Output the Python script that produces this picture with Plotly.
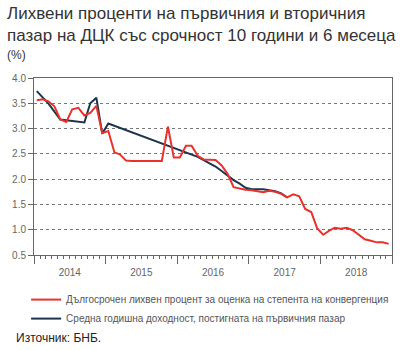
import plotly.graph_objects as go
import pandas as pd

# Monthly dates Jan 2014 - Dec 2018 (plotted at mid-month)
months = pd.date_range("2014-01-01", "2018-12-01", freq="MS") + pd.Timedelta(days=14)

# Long-term interest rate for the convergence assessment (%)
red_values = [
    3.56, 3.58, 3.54, 3.44, 3.18, 3.13, 3.38, 3.41, 3.26, 3.31, 3.45, 2.91,
    2.95, 2.53, 2.49, 2.37, 2.36, 2.36, 2.36, 2.36, 2.36, 2.36, 3.04, 2.43,
    2.43, 2.66, 2.66, 2.46, 2.39, 2.39, 2.38, 2.27, 2.10, 1.84, 1.81, 1.79,
    1.78, 1.76, 1.74, 1.77, 1.75, 1.71, 1.64, 1.70, 1.66, 1.41, 1.35, 1.03,
    0.90, 0.98, 1.04, 1.02, 1.04, 0.99, 0.91, 0.81, 0.78, 0.75, 0.75, 0.72,
]

# Average annual yield achieved on the primary market (%), None = no issue
blue_values = [
    3.74, None, 3.50, None, 3.18, None, None, None, 3.12, 3.50, 3.61, 2.90,
    3.10, None, None, None, None, None, None, None, None, None, None, None,
    None, None, None, 2.44, 2.38, 2.32, 2.25, 2.16, 2.07, 1.98, 1.91, 1.83,
    1.80, 1.80, 1.80, 1.78, 1.76, 1.72, 1.64, None, None, None, None, None,
    None, None, None, None, None, None, None, None, None, None, None, None,
]

red_name = "Дългосрочен лихвен процент за оценка на степента на конвергенция"
blue_name = "Средна годишна доходност, постигната на първичния пазар"
title_text = "Лихвени проценти на първичния и вторичния<br>пазар на ДЦК със срочност 10 години и 6 месеца"
unit_text = "(%)"
source_text = "Източник: БНБ."
y_ticks = [0.5, 1.0, 1.5, 2.0, 2.5, 3.0, 3.5, 4.0]

RED = "#e8322b"
BLUE = "#1d3450"
FONT = "Liberation Sans, Arial, sans-serif"

fig = go.Figure()
fig.add_trace(go.Scatter(x=months, y=blue_values, mode="lines", name=blue_name,
                         connectgaps=True, line=dict(color=BLUE, width=2)))
fig.add_trace(go.Scatter(x=months, y=red_values, mode="lines", name=red_name,
                         line=dict(color=RED, width=2)))

fig.update_layout(
    width=407, height=350,
    margin=dict(l=29, r=15, t=78, b=95),
    paper_bgcolor="white", plot_bgcolor="white",
    font=dict(family=FONT, color="#555555", size=10),
    showlegend=True,
    legend=dict(x=-0.022, y=-0.17, xanchor="left", yanchor="top",
                traceorder="reversed",
                font=dict(size=10, color="#555555"), tracegroupgap=0,
                bgcolor="rgba(0,0,0,0)"),
    annotations=[
        dict(text=title_text, xref="paper", yref="paper", x=-29/363, y=1 + 76/177,
             xanchor="left", yanchor="top", showarrow=False, align="left",
             font=dict(size=17, color="#333333", family=FONT)),
        dict(text=unit_text, xref="paper", yref="paper", x=-29/363, y=1 + 32/177,
             xanchor="left", yanchor="top", showarrow=False,
             font=dict(size=12, color="#333333", family=FONT)),
        dict(text=source_text, xref="paper", yref="paper", x=-20/363, y=-74/177,
             xanchor="left", yanchor="top", showarrow=False,
             font=dict(size=12, color="#222222", family=FONT)),
    ],
)

fig.update_xaxes(
    type="date", range=["2014-01-01", "2019-01-01"],
    dtick="M12", tick0="2014-01-01", tickformat="%Y", ticklabelmode="period",
    ticks="outside", ticklen=8, tickcolor="#666666", tickwidth=1,
    minor=dict(dtick="M1", ticks="outside", ticklen=3, tickcolor="#666666", showgrid=False),
    showline=True, linecolor="#666666", linewidth=1, mirror=True,
    showgrid=False, zeroline=False,
    tickfont=dict(size=10, color="#666666"),
)
fig.update_yaxes(
    range=[0.5, 4.0], tickvals=y_ticks, tickformat=".1f",
    ticks="outside", ticklen=5, tickcolor="#666666",
    showline=True, linecolor="#666666", linewidth=1, mirror=True,
    showgrid=True, gridcolor="#777777", griddash="dot", gridwidth=1,
    zeroline=False, tickfont=dict(size=10, color="#666666"),
)

fig.write_html("out.html")
